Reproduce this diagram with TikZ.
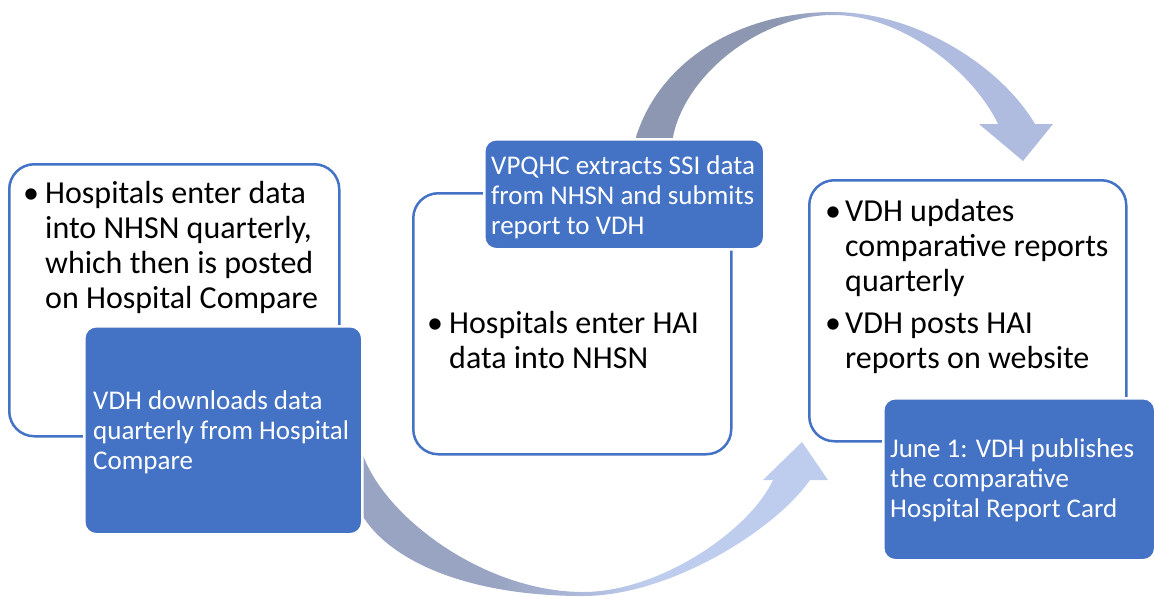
\documentclass[tikz,border=0pt]{standalone}
\usepackage{fontspec}
\setmainfont{Carlito}
\definecolor{accent}{HTML}{4472C4}
\definecolor{arrdarkA}{HTML}{8D97B1}
\definecolor{arrlightA}{HTML}{AFBCDF}
\definecolor{arrdarkB}{HTML}{99A3C2}
\definecolor{arrlightB}{HTML}{BECCEE}
\pgfdeclarehorizontalshading{topshade}{100bp}{color(0bp)=(arrdarkA); color(42bp)=(arrdarkA); color(51bp)=(arrlightA); color(100bp)=(arrlightA)}
\pgfdeclarehorizontalshading{botshade}{100bp}{color(0bp)=(arrdarkB); color(40bp)=(arrdarkB); color(56bp)=(arrlightB); color(100bp)=(arrlightB)}
\tikzset{
  whitebox/.style={draw=accent, line width=2.5pt, fill=white, rounded corners=25pt, anchor=north west, inner sep=0pt},
  bluebox/.style={draw=white, line width=2.5pt, fill=accent, rounded corners=12pt, anchor=north west, inner sep=0pt},
  blacktext/.style={anchor=base west, inner sep=0pt, font=\fontsize{32}{35}\selectfont, text=black},
  whitetext/.style={anchor=base west, inner sep=0pt, font=\fontsize{27}{30}\selectfont, text=white},
}
\newcommand{\bul}[1]{\hangindent=#1\hangafter=1\noindent\makebox[#1][l]{•}}
\begin{document}
\begin{tikzpicture}[x=1pt, y=-1pt]
\useasboundingbox (0,0) rectangle (1154,597);

% top curved arrow
\path[shading=topshade] (636,145) -- (636,137)
  .. controls (660,60) and (740,12) .. (833,12)
  .. controls (915,12) and (1000,65) .. (1035,124)
  -- (1053,124) -- (1023,161) -- (979,124) -- (998,124)
  .. controls (975,75) and (905,15) .. (833,15)
  .. controls (760,15) and (685,75) .. (673,137) -- (673,145) -- cycle;

% bottom curved arrow
\path[shading=botshade] (355,445) -- (355,500)
  .. controls (372,550) and (450,596) .. (583,596)
  .. controls (670,596) and (775,530) .. (810,480)
  -- (828,480) -- (802,442) -- (763,480) -- (773,480)
  .. controls (750,530) and (660,592) .. (583,592)
  .. controls (480,592) and (375,510) .. (360,445) -- cycle;

% white boxes
\node[whitebox, minimum width=330pt, minimum height=272pt] (w1) at (8,163) {};
\node[whitebox, minimum width=318pt, minimum height=261pt] (w2) at (412,192) {};
\node[whitebox, minimum width=317pt, minimum height=261pt] (w3) at (808,179) {};

% blue boxes
\node[bluebox, minimum width=278pt, minimum height=208pt] (b1) at (83,325) {};
\node[bluebox, minimum width=280pt, minimum height=110pt] (b2) at (483,138) {};
\node[bluebox, minimum width=272pt, minimum height=162pt] (b3) at (882,397) {};

% texts in white boxes
\node[blacktext] (t1) at (23,203) {\parbox[t]{320pt}{\bul{22pt}Hospitals enter data\\into NHSN quarterly,\\which then is posted\\on Hospital Compare}};
\node[blacktext] (t2) at (427,333) {\parbox[t]{300pt}{\bul{22pt}Hospitals enter HAI\\data into NHSN}};
\node[blacktext] (t3) at (825,221) {\parbox[t]{310pt}{\bul{20pt}VDH updates\\comparative reports\\quarterly\par\vspace{7pt}\bul{20pt}VDH posts HAI\\reports on website}};

% texts in blue boxes
\node[whitetext] (u1) at (93,409) {\parbox[t]{270pt}{VDH downloads data\\quarterly from Hospital\\Compare}};
\node[whitetext] (u2) at (491,174) {\parbox[t]{270pt}{VPQHC extracts SSI data\\from NHSN and submits\\report to VDH}};
\node[whitetext] (u3) at (890,457) {\parbox[t]{265pt}{June 1: VDH publishes\\the comparative\\Hospital Report Card}};
\end{tikzpicture}
\end{document}
